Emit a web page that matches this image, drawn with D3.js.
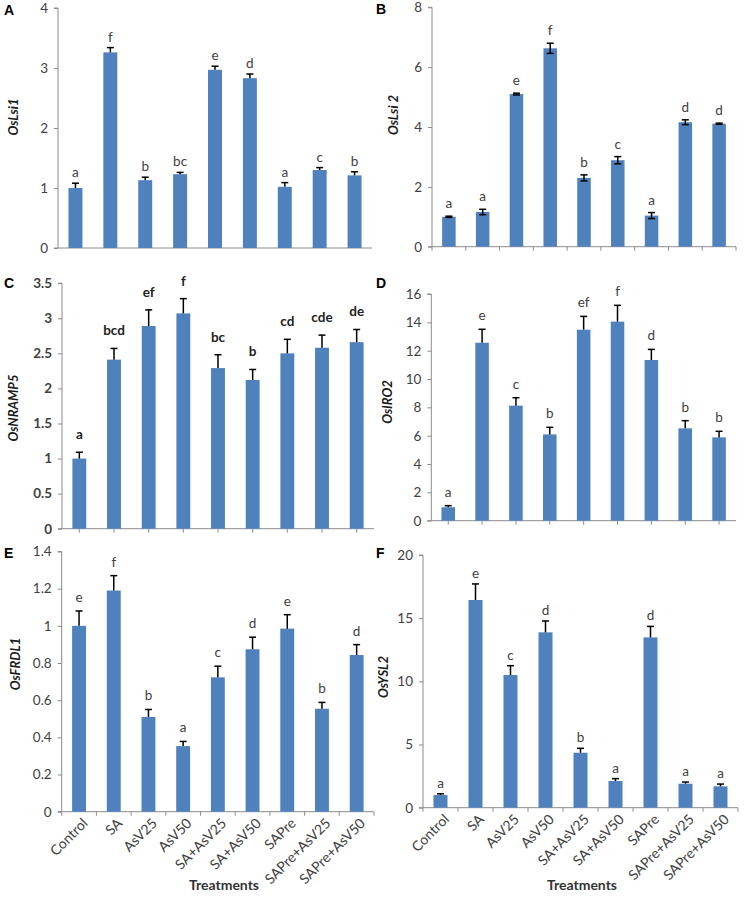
<!DOCTYPE html>
<html><head><meta charset="utf-8">
<script src="https://cdn.jsdelivr.net/npm/d3@7"></script>
<style>body{margin:0;background:#fff}svg{display:block}</style>
</head><body><svg id="c" width="746" height="898"></svg>
<script>
const categories = ["Control","SA","AsV25","AsV50","SA+AsV25","SA+AsV50","SAPre","SAPre+AsV25","SAPre+AsV50"];

const valuesA = [1.00,3.26,1.13,1.23,2.97,2.83,1.02,1.30,1.21];
const errorsA = [0.08,0.08,0.05,0.03,0.06,0.07,0.07,0.04,0.06];
const lettersA = ["a","f","b","bc","e","d","a","c","b"];
const ticksA = [0,1,2,3,4];

const valuesB = [1.00,1.16,5.10,6.63,2.30,2.89,1.04,4.16,4.11];
const errorsB = [0.02,0.09,0.03,0.17,0.10,0.12,0.10,0.08,0.02];
const lettersB = ["a","a","e","f","b","c","a","d","d"];
const ticksB = [0,2,4,6,8];

const valuesC = [1.00,2.41,2.89,3.07,2.29,2.12,2.50,2.58,2.66];
const errorsC = [0.09,0.16,0.23,0.21,0.19,0.15,0.20,0.18,0.18];
const lettersC = ["a","bcd","ef","f","bc","b","cd","cde","de"];
const ticksC = [0,0.5,1,1.5,2,2.5,3,3.5];

const valuesD = [0.95,12.56,8.12,6.09,13.48,14.05,11.34,6.52,5.88];
const errorsD = [0.11,0.95,0.56,0.50,0.94,1.15,0.75,0.54,0.43];
const lettersD = ["a","e","c","b","ef","f","d","b","b"];
const ticksD = [0,2,4,6,8,10,12,14,16];

const valuesE = [1.00,1.19,0.51,0.353,0.723,0.874,0.985,0.554,0.843];
const errorsE = [0.08,0.08,0.04,0.025,0.06,0.065,0.075,0.034,0.056];
const lettersE = ["e","f","b","a","c","d","e","b","d"];
const ticksE = [0,0.2,0.4,0.6,0.8,1,1.2,1.4];

const valuesF = [1.00,16.44,10.50,13.88,4.35,2.11,13.48,1.90,1.69];
const errorsF = [0.10,1.27,0.74,0.90,0.35,0.19,0.87,0.13,0.18];
const lettersF = ["a","e","c","d","b","a","d","a","a"];
const ticksF = [0,5,10,15,20];

const panelNames = ["A","B","C","D","E","F"];
const geneNames = ["OsLsi1","OsLsi 2","OsNRAMP5","OsIRO2","OsFRDL1","OsYSL2"];
const xTitle = "Treatments";

const svg = d3.select("#c");
const FONT = "Lato, 'Open Sans', sans-serif";
const BAR = "#4F81BD", AXIS = "#8c8c8c", TXT = "#404040";

const panels = [
 {vals:valuesA, errs:errorsA, lets:lettersA, ticks:ticksA, x0:58, x1:372, yb:248, yt:8, xt:"none", both:false, bold:false, gap:6,
  tag:[4,15], lab:[14,117], xl:false},
 {vals:valuesB, errs:errorsB, lets:lettersB, ticks:ticksB, x0:432, x1:736, yb:246.7, yt:7.3, xt:"between", both:true, bold:false, gap:8,
  tag:[376,14], lab:[394,115], xl:false},
 {vals:valuesC, errs:errorsC, lets:lettersC, ticks:ticksC, x0:62, x1:374, yb:528.7, yt:283.2, xt:"center", both:false, bold:true, gap:13,
  tag:[4,288], lab:[14,408], xl:false},
 {vals:valuesD, errs:errorsD, lets:lettersD, ticks:ticksD, x0:431.3, x1:736, yb:520.7, yt:294, xt:"center", both:false, bold:false, gap:9,
  tag:[376,288], lab:[388,402], xl:false},
 {vals:valuesE, errs:errorsE, lets:lettersE, ticks:ticksE, x0:61.7, x1:374, yb:811.7, yt:551.5, xt:"between", both:false, bold:false, gap:9,
  tag:[4,558], lab:[16,664], xl:true, tx:224},
 {vals:valuesF, errs:errorsF, lets:lettersF, ticks:ticksF, x0:423, x1:738, yb:807.7, yt:555, xt:"between", both:false, bold:false, gap:6,
  tag:[376,558], lab:[384,677], xl:true, tx:582}
];

panels.forEach((p,pi)=>{
  const g = svg.append("g");
  const x = d3.scaleBand().domain(categories).range([p.x0,p.x1]).paddingInner(0.6).paddingOuter(0.3);
  const ymax = p.ticks[p.ticks.length-1];
  const y = d3.scaleLinear().domain([0,ymax]).range([p.yb,p.yt]);

  const ya = d3.axisLeft(y).tickValues(p.ticks).tickSize(4).tickPadding(6)
     .tickFormat(d=>String(d));
  const yg = g.append("g").attr("transform",`translate(${p.x0},0)`).call(ya);
  yg.select(".domain").attr("stroke",AXIS).attr("d",`M-4,${p.yt}H0V${p.yb}`);
  yg.selectAll(".tick line").attr("stroke",AXIS);
  yg.selectAll(".tick text").attr("fill",TXT).attr("font-family",FONT).attr("font-size",13.5)
    .attr("font-weight",p.bold?"bold":"normal");

  g.append("line").attr("x1",p.x0-4).attr("x2",p.x1).attr("y1",p.yb).attr("y2",p.yb).attr("stroke",AXIS).attr("stroke-width",1);
  let tickPos = [];
  if (p.xt==="between") {
    for (let i=0;i<=categories.length;i++) tickPos.push(p.x0 + i*(p.x1-p.x0)/categories.length);
  } else if (p.xt==="center") {
    tickPos = categories.map(c=>x(c)+x.bandwidth()/2);
  }
  g.selectAll(".xt").data(tickPos).join("line").attr("x1",d=>d).attr("x2",d=>d)
    .attr("y1",p.yb).attr("y2",p.yb+4).attr("stroke",AXIS);

  const data = categories.map((c,i)=>({c, v:p.vals[i], e:p.errs[i], l:p.lets[i]}));
  g.selectAll(".bar").data(data).join("rect")
    .attr("x",d=>x(d.c)).attr("width",x.bandwidth())
    .attr("y",d=>y(d.v)).attr("height",d=>p.yb-y(d.v)).attr("fill",BAR);
  const cw = 3.5;
  data.forEach(d=>{
    const cx = x(d.c)+x.bandwidth()/2;
    const top = y(d.v+d.e), bot = p.both? y(d.v-d.e) : y(d.v);
    g.append("line").attr("x1",cx).attr("x2",cx).attr("y1",top).attr("y2",bot).attr("stroke","#000").attr("stroke-width",1.5);
    g.append("line").attr("x1",cx-cw).attr("x2",cx+cw).attr("y1",top).attr("y2",top).attr("stroke","#000").attr("stroke-width",1.5);
    if (p.both) g.append("line").attr("x1",cx-cw).attr("x2",cx+cw).attr("y1",bot).attr("y2",bot).attr("stroke","#000").attr("stroke-width",1.5);
    g.append("text").attr("x",cx).attr("y",top-p.gap).attr("text-anchor","middle")
      .attr("font-family",FONT).attr("font-size",13.5).attr("fill",p.bold?"#222":TXT)
      .attr("font-weight",p.bold?"bold":"normal").text(d.l);
  });

  g.append("text").attr("x",p.tag[0]).attr("y",p.tag[1]).attr("font-family","'Liberation Sans', Arial, sans-serif")
    .attr("font-size",14).attr("font-weight","bold").attr("fill","#000").text(panelNames[pi]);
  g.append("text").attr("transform",`translate(${p.lab[0]+4},${p.lab[1]}) rotate(-90)`).attr("text-anchor","middle")
    .attr("font-family",FONT).attr("font-size",13).attr("font-weight","bold").attr("font-style","italic")
    .attr("fill","#1a1a1a").text(geneNames[pi]);

  if (p.xl) {
    g.selectAll(".xl").data(categories).join("text")
      .attr("transform",c=>`translate(${x(c)+x.bandwidth()/2+6},${p.yb+9}) rotate(-45)`)
      .attr("text-anchor","end").attr("dy","0.35em")
      .attr("font-family",FONT).attr("font-size",14).attr("fill",TXT).text(c=>c);
    g.append("text").attr("x",p.tx).attr("y",890).attr("text-anchor","middle")
      .attr("font-family",FONT).attr("font-size",14).attr("font-weight","bold").attr("fill","#333").text(xTitle);
  }
});
</script></body></html>
